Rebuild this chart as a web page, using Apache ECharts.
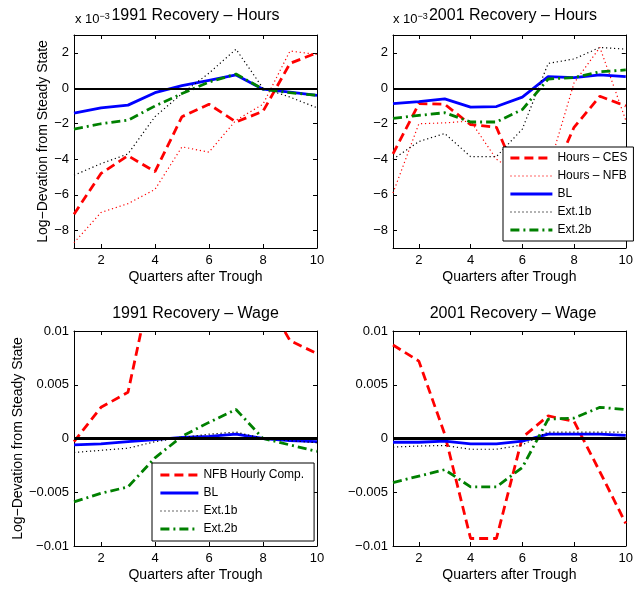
<!DOCTYPE html>
<html>
<head>
<meta charset="utf-8">
<script src="https://cdn.jsdelivr.net/npm/echarts@6/dist/echarts.min.js"></script>
<style>
html, body { margin: 0; padding: 0; background: #fff; }
#main { width: 636px; height: 591px; }
</style>
</head>
<body>
<div id="main"></div>
<script>
const chartDom = document.getElementById('main');
const myChart = echarts.init(chartDom);

const FONT = '"Liberation Sans", Arial, Helvetica, sans-serif';

// x axis: quarters after trough
const quarters = [1, 2, 3, 4, 5, 6, 7, 8, 9, 10];
const xTicks = [2, 4, 6, 8, 10];

// hours panels are read in units of 10^-3
const hourTicks = [-8, -6, -4, -2, 0, 2];
const wageTicks = [-0.01, -0.005, 0, 0.005, 0.01];

// 1991 recovery - hours
const h91CES = [-7.1, -4.8, -3.8, -4.7, -1.6, -0.9, -1.9, -1.3, 1.4, 2.0];
const h91NFB = [-8.7, -7.0, -6.5, -5.7, -3.3, -3.6, -1.8, -0.9, 2.1, 1.9];
const h91BL = [-1.4, -1.1, -0.95, -0.25, 0.15, 0.45, 0.75, -0.05, -0.22, -0.4];
const h91Ext1b = [-4.9, -4.25, -3.7, -1.6, -0.3, 0.85, 2.2, 0.0, -0.5, -1.1];
const h91Ext2b = [-2.3, -2.0, -1.8, -1.0, -0.3, 0.35, 0.8, -0.05, -0.25, -0.4];

// 2001 recovery - hours
const h01CES = [-3.7, -0.87, -0.9, -2.05, -2.2, -5.6, -5.5, -2.2, -0.45, -1.0];
const h01NFB = [-5.9, -2.0, -1.95, -1.85, -4.0, -5.0, -4.6, 0.3, 2.3, -1.8];
const h01BL = [-0.87, -0.75, -0.6, -1.06, -1.03, -0.5, 0.65, 0.6, 0.75, 0.65];
const h01Ext1b = [-4.0, -3.0, -2.55, -3.85, -3.85, -2.3, 1.4, 1.65, 2.3, 2.2];
const h01Ext2b = [-1.7, -1.53, -1.38, -1.9, -1.9, -1.2, 0.52, 0.6, 0.93, 1.03];

// 1991 recovery - wage
const w91NFB = [-0.0003, 0.0029, 0.0043, 0.016, 0.018, 0.019, 0.017, 0.0135, 0.0091, 0.0079];
const w91BL = [-0.0006, -0.0005, -0.0003, -0.0001, 0.0001, 0.0002, 0.0004, 0.0, -0.0002, -0.0003];
const w91Ext1b = [-0.0013, -0.0011, -0.0009, -0.0003, 0.0001, 0.0004, 0.0006, 0.0, -0.0002, -0.0004];
const w91Ext2b = [-0.0059, -0.0051, -0.0045, -0.0018, 0.0002, 0.0015, 0.0027, 0.0, -0.0006, -0.0012];

// 2001 recovery - wage
const w01NFB = [0.0087, 0.0072, 0.0004, -0.0093, -0.0093, 0.0001, 0.0021, 0.0016, -0.0031, -0.0079];
const w01BL = [-0.00035, -0.00035, -0.00025, -0.0005, -0.0005, -0.00025, 0.0004, 0.0004, 0.0004, 0.0003];
const w01Ext1b = [-0.0008, -0.0007, -0.00065, -0.001, -0.001, -0.0006, 0.0006, 0.0006, 0.0006, 0.0006];
const w01Ext2b = [-0.0041, -0.0035, -0.0029, -0.0045, -0.0045, -0.0027, 0.0018, 0.0019, 0.0029, 0.0027];

const styles = {
    dash: { color: '#ff0000', width: 2.8, type: [9, 5] },
    reddot: { color: '#ff0000', width: 1.2, type: [1.2, 2.8] },
    solid: { color: '#0000ff', width: 2.8, type: 'solid' },
    blackdot: { color: '#000000', width: 1.2, type: [1.2, 2.8] },
    dashdot: { color: '#008000', width: 2.8, type: [9, 4, 2, 4] }
};

const grids = [
    { left: 74, top: 35, width: 243, height: 213 },
    { left: 393, top: 35, width: 240, height: 213 },
    { left: 74, top: 331, width: 243, height: 215 },
    { left: 393, top: 331, width: 240, height: 215 }
];

const minus = v => String(v).replace('-', '\u2212');

function line(name, st, values, idx, zero, zeroWidth) {
    const s = {
        name: name,
        type: 'line',
        xAxisIndex: idx,
        yAxisIndex: idx,
        data: quarters.map((q, i) => [q, values[i]]),
        symbol: 'none',
        silent: true,
        clip: true,
        lineStyle: { color: st.color, width: st.width, type: st.type },
        itemStyle: { color: st.color },
        emphasis: { disabled: true }
    };
    if (zero) {
        s.markLine = {
            silent: true,
            symbol: 'none',
            label: { show: false },
            lineStyle: { color: '#000', type: 'solid', width: zeroWidth },
            data: [{ yAxis: 0 }]
        };
    }
    return s;
}

const series = [
    line('Hours – CES', styles.dash, h91CES, 0, true, 2),
    line('Hours – NFB', styles.reddot, h91NFB, 0),
    line('BL', styles.solid, h91BL, 0),
    line('Ext.1b', styles.blackdot, h91Ext1b, 0),
    line('Ext.2b', styles.dashdot, h91Ext2b, 0),

    line('Hours – CES', styles.dash, h01CES, 1, true, 2),
    line('Hours – NFB', styles.reddot, h01NFB, 1),
    line('BL', styles.solid, h01BL, 1),
    line('Ext.1b', styles.blackdot, h01Ext1b, 1),
    line('Ext.2b', styles.dashdot, h01Ext2b, 1),

    line('NFB Hourly Comp.', styles.dash, w91NFB, 2, true, 3),
    line('BL', styles.solid, w91BL, 2),
    line('Ext.1b', styles.blackdot, w91Ext1b, 2),
    line('Ext.2b', styles.dashdot, w91Ext2b, 2),

    line('NFB Hourly Comp.', styles.dash, w01NFB, 3, true, 3),
    line('BL', styles.solid, w01BL, 3),
    line('Ext.1b', styles.blackdot, w01Ext1b, 3),
    line('Ext.2b', styles.dashdot, w01Ext2b, 3)
];

const axisLine = { show: true, onZero: false, lineStyle: { color: '#000', width: 1 } };
const tickStyle = { color: '#000', width: 1 };

const xAxis = [];
const yAxis = [];
grids.forEach((g, i) => {
    const isHours = i < 2;
    xAxis.push({
        type: 'value', gridIndex: i, min: 1, max: 10,
        axisLine: axisLine,
        axisTick: { inside: true, length: 4, lineStyle: tickStyle, customValues: xTicks },
        axisLabel: { customValues: xTicks, margin: 6, color: '#000', fontFamily: FONT, fontSize: 13 },
        splitLine: { show: false },
        name: 'Quarters after Trough',
        nameLocation: 'middle',
        nameGap: 22,
        nameTextStyle: { color: '#000', fontFamily: FONT, fontSize: 14 }
    });
    const yTicks = isHours ? hourTicks : wageTicks;
    const y = {
        type: 'value', gridIndex: i,
        min: isHours ? -9 : -0.01, max: isHours ? 3 : 0.01,
        axisLine: axisLine,
        axisTick: { inside: true, length: 4, lineStyle: tickStyle, customValues: yTicks },
        axisLabel: { customValues: yTicks, margin: 5, color: '#000', fontFamily: FONT, fontSize: 13, formatter: minus },
        splitLine: { show: false }
    };
    if (i === 0 || i === 2) {
        y.name = 'Log\u2212Devation from Steady State';
        y.nameLocation = 'middle';
        y.nameRotate = 90;
        y.nameGap = i === 0 ? 24 : 44;
        y.nameTextStyle = { color: '#000', fontFamily: FONT, fontSize: 14 };
    }
    yAxis.push(y);
});
// box axes on top and right with inward ticks
grids.forEach((g, i) => {
    const isHours = i < 2;
    const yTicks = isHours ? hourTicks : wageTicks;
    xAxis.push({
        type: 'value', gridIndex: i, min: 1, max: 10, position: 'top',
        axisLine: axisLine,
        axisTick: { inside: true, length: 4, lineStyle: tickStyle, customValues: xTicks },
        axisLabel: { show: false },
        splitLine: { show: false }
    });
    yAxis.push({
        type: 'value', gridIndex: i, position: 'right',
        min: isHours ? -9 : -0.01, max: isHours ? 3 : 0.01,
        axisLine: axisLine,
        axisTick: { inside: true, length: 4, lineStyle: tickStyle, customValues: yTicks },
        axisLabel: { show: false },
        splitLine: { show: false }
    });
});

const legendText = { color: '#000', fontFamily: FONT, fontSize: 12 };
// line-only legend keys (hide the symbol ECharts adds)
const legendItem = (name, st) => ({
    name: name,
    lineStyle: { width: st.width, type: st.type, color: st.color },
    itemStyle: { color: 'rgba(0,0,0,0)', borderWidth: 0, opacity: 0 }
});

const titleFont = '16px ' + FONT;
const titleAt = (text, g, y) => ({
    type: 'text', x: g.left + g.width / 2, y: y,
    style: { text: text, font: titleFont, fill: '#000', textAlign: 'center', textVerticalAlign: 'middle' }
});
const expAt = (x) => ({
    type: 'text', x: x, y: 27,
    style: {
        text: 'x 10{s|\u22123}',
        font: '13px ' + FONT, fill: '#000', textAlign: 'left', textVerticalAlign: 'bottom',
        rich: { s: { font: '9px ' + FONT, fill: '#000', verticalAlign: 'top', padding: [0, 0, 6, 0] } }
    }
});

const option = {
    animation: false,
    backgroundColor: '#fff',
    grid: grids,
    xAxis: xAxis,
    yAxis: yAxis,
    legend: [
        {
            data: [
                legendItem('Hours – CES', styles.dash),
                legendItem('Hours – NFB', styles.reddot),
                legendItem('BL', styles.solid),
                legendItem('Ext.1b', styles.blackdot),
                legendItem('Ext.2b', styles.dashdot)
            ],
            orient: 'vertical', left: 503, top: 147,
            itemWidth: 42, itemHeight: 12, itemGap: 6,
            padding: [5, 6, 5, 6],
            borderColor: '#000', borderWidth: 1, backgroundColor: '#fff',
            textStyle: legendText,
            selectedMode: false
        },
        {
            data: [
                legendItem('NFB Hourly Comp.', styles.dash),
                legendItem('BL', styles.solid),
                legendItem('Ext.1b', styles.blackdot),
                legendItem('Ext.2b', styles.dashdot)
            ],
            orient: 'vertical', left: 152, top: 463,
            itemWidth: 38, itemHeight: 12, itemGap: 6,
            padding: [6, 10, 6, 7],
            borderColor: '#000', borderWidth: 1, backgroundColor: '#fff',
            textStyle: legendText,
            selectedMode: false
        }
    ],
    graphic: [
        titleAt('1991 Recovery – Hours', grids[0], 16),
        titleAt('2001 Recovery – Hours', grids[1], 16),
        titleAt('1991 Recovery – Wage', grids[2], 314),
        titleAt('2001 Recovery – Wage', grids[3], 314),
        expAt(75),
        expAt(393)
    ],
    series: series
};

myChart.setOption(option);
window.onresize = () => myChart.resize();
</script>
</body>
</html>
